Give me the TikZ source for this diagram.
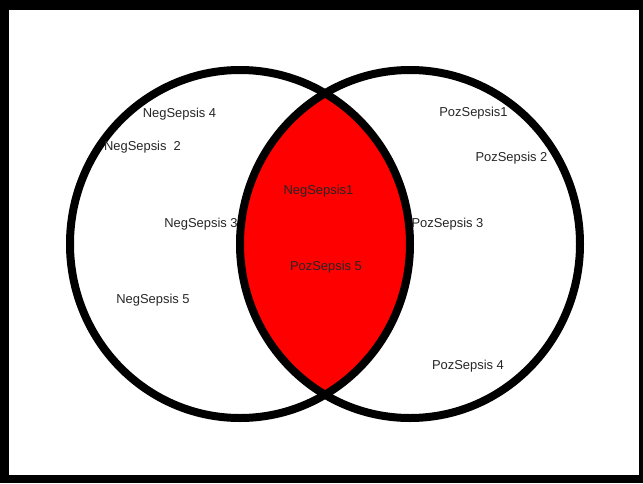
\documentclass[tikz,border=0pt]{standalone}
\usepackage{fontspec}
\setmainfont{Liberation Sans}

\begin{document}
\begin{tikzpicture}[x=0.75pt, y=-0.75pt,
    set/.style={line width=6pt},
    item/.style={inner sep=0pt, yshift=-1.2pt, font=\fontsize{9.7}{11}\selectfont, text=black!85}]
    \def\rx{170}
    \def\ry{174}

    % frame
    \fill[black] (0,0) rectangle (643,483);
    \fill[white] (9,10) rectangle (639,475);
    \useasboundingbox (0,0) rectangle (643,483);

    % overlap of the two sets
    \begin{scope}
      \clip (240,244) ellipse [x radius=\rx, y radius=\ry];
      \fill[red] (410,244) ellipse [x radius=\rx, y radius=\ry];
    \end{scope}
    \draw[set] (240,244) ellipse [x radius=\rx, y radius=\ry];
    \draw[set] (410,244) ellipse [x radius=\rx, y radius=\ry];

    % left set
    \node[item] (neg4) at (179.5,113) {NegSepsis 4};
    \node[item] (neg2) at (142.5,146) {NegSepsis\ \ 2};
    \node[item] (neg3) at (201,223) {NegSepsis 3};
    \node[item] (neg5) at (153,299) {NegSepsis 5};

    % both sets
    \node[item] (neg1) at (318.5,190) {NegSepsis1};
    \node[item] (poz5) at (326,266) {PozSepsis 5};

    % right set
    \node[item] (poz1) at (473.5,112) {PozSepsis1};
    \node[item] (poz2) at (511.5,157) {PozSepsis 2};
    \node[item] (poz3) at (447.5,223) {PozSepsis 3};
    \node[item] (poz4) at (468,365) {PozSepsis 4};
\end{tikzpicture}
\end{document}
